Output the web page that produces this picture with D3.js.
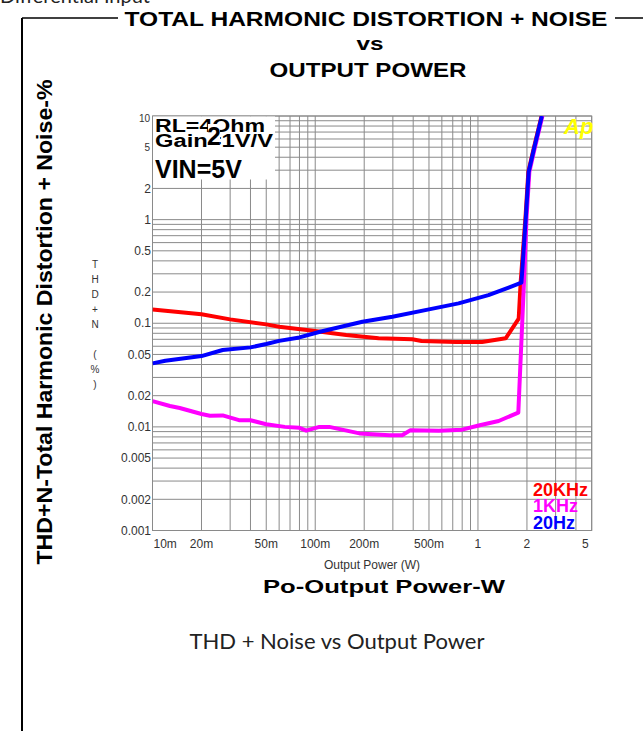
<!DOCTYPE html>
<style>
  body { margin: 0; background: #fff; }
  svg { display: block; }
</style>
<svg width="643" height="731"></svg>
<script src="https://d3js.org/d3.v7.min.js"></script>
<script>
  // values: [output power W, THD+N %]
  var curve20k = [[0.01,0.136],[0.02,0.122],[0.03,0.109],[0.05,0.0975],[0.06,0.0926],[0.097,0.0847],
    [0.155,0.0769],[0.245,0.0715],[0.395,0.070],[0.45,0.0675],[0.73,0.0659],[1.06,0.066],
    [1.48,0.0715],[1.78,0.111],[1.83,0.25],[1.96,1.07],[2.04,2.9],[2.19,4.7],[2.46,10]];
  var curve1k = [[0.01,0.0177],[0.0128,0.0159],[0.0147,0.0152],[0.02,0.0133],[0.0225,0.0128],
    [0.027,0.0129],[0.034,0.0116],[0.04,0.0116],[0.05,0.0106],[0.065,0.0100],[0.08,0.0098],
    [0.088,0.0092],[0.106,0.0100],[0.122,0.0100],[0.187,0.00865],[0.285,0.0083],[0.342,0.0083],
    [0.385,0.0093],[0.575,0.0092],[0.80,0.0094],[1.01,0.0103],[1.34,0.0114],[1.77,0.0137],
    [1.92,0.26],[1.99,1.07],[2.07,2.9],[2.22,4.7],[2.49,10]];
  var curve20 = [[0.01,0.041],[0.012,0.0434],[0.02,0.0482],[0.027,0.0552],[0.04,0.0585],[0.05,0.063],
    [0.06,0.0676],[0.08,0.073],[0.107,0.0828],[0.195,0.1034],[0.298,0.1155],[0.5,0.136],
    [0.76,0.1556],[1.16,0.187],[1.85,0.246],[1.97,1.07],[2.05,2.9],[2.2,4.7],[2.47,10]];

  var seriesNames = ["20KHz", "1KHz", "20Hz"];
  var seriesColors = ["#ff0000", "#ff00ff", "#0000ff"];

  var xTickValues = [0.01,0.02,0.05,0.1,0.2,0.5,1,2,5];
  var xTickLabels = ["10m","20m","50m","100m","200m","500m","1","2","5"];
  var yTickValues = [10,5,2,1,0.5,0.2,0.1,0.05,0.02,0.01,0.005,0.002,0.001];
  var yTickLabels = ["10","5","2","1","0.5","0.2","0.1","0.05","0.02","0.01","0.005","0.002","0.001"];

  var svg = d3.select("svg");

  var x = d3.scaleLog().domain([0.01, 5]).range([152.5, 591.7]);
  var y = d3.scaleLog().domain([0.001, 10]).range([530.5, 116]);

  // page frame
  svg.append("text").attr("x", 0).attr("y", 3)
    .attr("font-family", "Lato, sans-serif").attr("font-size", 20).attr("fill", "#222")
    .text("Differential Input");
  svg.append("line").attr("x1", 22).attr("x2", 643).attr("y1", 18).attr("y2", 18)
    .attr("stroke", "#000").attr("stroke-width", 1.5);
  svg.append("line").attr("x1", 22).attr("x2", 22).attr("y1", 18).attr("y2", 731)
    .attr("stroke", "#000").attr("stroke-width", 2);
  // the pasted chart image covers the frame line under the title
  svg.append("rect").attr("x", 118).attr("y", 8).attr("width", 497).attr("height", 22).attr("fill", "#fff");

  // titles
  var bold = "'Liberation Sans', Arial, sans-serif";
  svg.append("text").attr("x", 366).attr("y", 26).attr("text-anchor", "middle")
    .attr("font-family", bold).attr("font-weight", "bold").attr("font-size", 21)
    .attr("textLength", 483).attr("lengthAdjust", "spacingAndGlyphs")
    .text("TOTAL HARMONIC DISTORTION + NOISE");
  svg.append("text").attr("x", 370).attr("y", 50).attr("text-anchor", "middle")
    .attr("font-family", bold).attr("font-weight", "bold").attr("font-size", 18)
    .attr("textLength", 27).attr("lengthAdjust", "spacingAndGlyphs")
    .text("vs");
  svg.append("text").attr("x", 368).attr("y", 77).attr("text-anchor", "middle")
    .attr("font-family", bold).attr("font-weight", "bold").attr("font-size", 21)
    .attr("textLength", 197).attr("lengthAdjust", "spacingAndGlyphs")
    .text("OUTPUT POWER");

  // grid
  var g = svg.append("g");
  g.selectAll(".vg").data(x.ticks()).enter().append("line")
    .attr("x1", function(d) { return x(d); }).attr("x2", function(d) { return x(d); })
    .attr("y1", y(10)).attr("y2", y(0.001))
    .attr("stroke", "#8a8a8a").attr("stroke-width", 1);
  g.selectAll(".hg").data(y.ticks()).enter().append("line")
    .attr("y1", function(d) { return y(d); }).attr("y2", function(d) { return y(d); })
    .attr("x1", x(0.01)).attr("x2", x(5))
    .attr("stroke", "#8a8a8a").attr("stroke-width", 1);
  g.append("rect").attr("x", x(0.01)).attr("y", y(10))
    .attr("width", x(5) - x(0.01)).attr("height", y(0.001) - y(10))
    .attr("fill", "none").attr("stroke", "#8a8a8a");

  // y tick labels
  svg.selectAll(".yl").data(yTickValues).enter().append("text")
    .attr("x", function(d, i) { return i < 2 ? 150 : 151; })
    .attr("y", function(d) { return y(d); })
    .attr("dy", function(d, i) { return i === 0 ? "0.55em" : "0.35em"; })
    .attr("text-anchor", "end")
    .attr("font-family", "'Liberation Sans', Arial, sans-serif")
    .attr("font-size", function(d, i) { return i < 2 ? 10 : 12; })
    .attr("fill", "#333")
    .text(function(d, i) { return yTickLabels[i]; });

  // x tick labels
  svg.selectAll(".xl").data(xTickValues).enter().append("text")
    .attr("x", function(d, i) { return i === 0 ? x(d) + 1 : (i === xTickValues.length - 1 ? x(d) - 3 : x(d)); })
    .attr("y", 548)
    .attr("text-anchor", function(d, i) { return i === 0 ? "start" : (i === xTickValues.length - 1 ? "end" : "middle"); })
    .attr("font-family", "'Liberation Sans', Arial, sans-serif").attr("font-size", 12)
    .attr("fill", "#333")
    .text(function(d, i) { return xTickLabels[i]; });

  // curves
  var line = d3.line()
    .x(function(d) { return x(d[0]); })
    .y(function(d) { return y(d[1]); });

  svg.append("clipPath").attr("id", "plot").append("rect")
    .attr("x", x(0.01)).attr("y", y(10))
    .attr("width", x(5) - x(0.01)).attr("height", y(0.001) - y(10));

  var curves = [curve20k, curve1k, curve20];
  svg.append("g").attr("clip-path", "url(#plot)")
    .selectAll("path").data(curves).enter().append("path")
    .attr("d", line)
    .attr("fill", "none")
    .attr("stroke", function(d, i) { return seriesColors[i]; })
    .attr("stroke-width", 4)
    .attr("stroke-linejoin", "round");

  // condition box
  svg.append("rect").attr("x", 153).attr("y", 116.5).attr("width", 122).attr("height", 63).attr("fill", "#fff");
  svg.append("text").attr("x", 155).attr("y", 132)
    .attr("font-family", bold).attr("font-weight", "bold").attr("font-size", 18)
    .attr("textLength", 110).attr("lengthAdjust", "spacingAndGlyphs").text("RL=4Ohm");
  svg.append("text").attr("x", 155).attr("y", 147)
    .attr("font-family", bold).attr("font-weight", "bold").attr("font-size", 18)
    .attr("textLength", 118).attr("lengthAdjust", "spacingAndGlyphs").text("Gain=1V/V");
  svg.append("text").attr("x", 155).attr("y", 178)
    .attr("font-family", bold).attr("font-weight", "bold").attr("font-size", 25)
    .text("VIN=5V");
  svg.append("rect").attr("x", 208).attr("y", 124).attr("width", 12).attr("height", 21).attr("fill", "#fff");
  svg.append("text").attr("x", 207).attr("y", 145)
    .attr("font-family", bold).attr("font-weight", "bold").attr("font-size", 25)
    .text("2");

  // Ap logo
  svg.append("text").attr("x", 564).attr("y", 134)
    .attr("font-family", bold).attr("font-weight", "bold").attr("font-style", "italic")
    .attr("font-size", 22).attr("fill", "#ffff00").text("Ap");

  // legend
  var legendY = [496, 512, 529];
  svg.selectAll(".lg").data(seriesNames).enter().append("text")
    .attr("x", 533).attr("y", function(d, i) { return legendY[i]; })
    .attr("font-family", bold).attr("font-weight", "bold").attr("font-size", 18)
    .attr("fill", function(d, i) { return seriesColors[i]; })
    .text(function(d) { return d; });

  // axis titles
  svg.append("text").attr("x", 372).attr("y", 569).attr("text-anchor", "middle")
    .attr("font-family", "'Liberation Sans', Arial, sans-serif").attr("font-size", 12).attr("fill", "#333")
    .text("Output Power (W)");
  svg.append("text").attr("x", 384).attr("y", 593).attr("text-anchor", "middle")
    .attr("font-family", bold).attr("font-weight", "bold").attr("font-size", 19)
    .attr("textLength", 242).attr("lengthAdjust", "spacingAndGlyphs")
    .text("Po-Output Power-W");

  svg.append("text").attr("transform", "translate(52,322) rotate(-90)")
    .attr("text-anchor", "middle")
    .attr("font-family", bold).attr("font-weight", "bold").attr("font-size", 22)
    .attr("textLength", 485).attr("lengthAdjust", "spacingAndGlyphs")
    .text("THD+N-Total Harmonic Distortion + Noise-%");

  var stacked = "THD+N (%)".split("");
  svg.selectAll(".st").data(stacked).enter().append("text")
    .attr("x", 95).attr("y", function(d, i) { return 268 + i * 15; })
    .attr("text-anchor", "middle")
    .attr("font-family", "'Liberation Sans', Arial, sans-serif").attr("font-size", 10).attr("fill", "#333")
    .text(function(d) { return d; });

  // caption
  svg.append("text").attr("x", 337).attr("y", 649).attr("text-anchor", "middle")
    .attr("font-family", "Lato, sans-serif").attr("font-size", 21).attr("fill", "#222")
    .attr("textLength", 295).attr("lengthAdjust", "spacingAndGlyphs")
    .text("THD + Noise vs Output Power");
</script>
